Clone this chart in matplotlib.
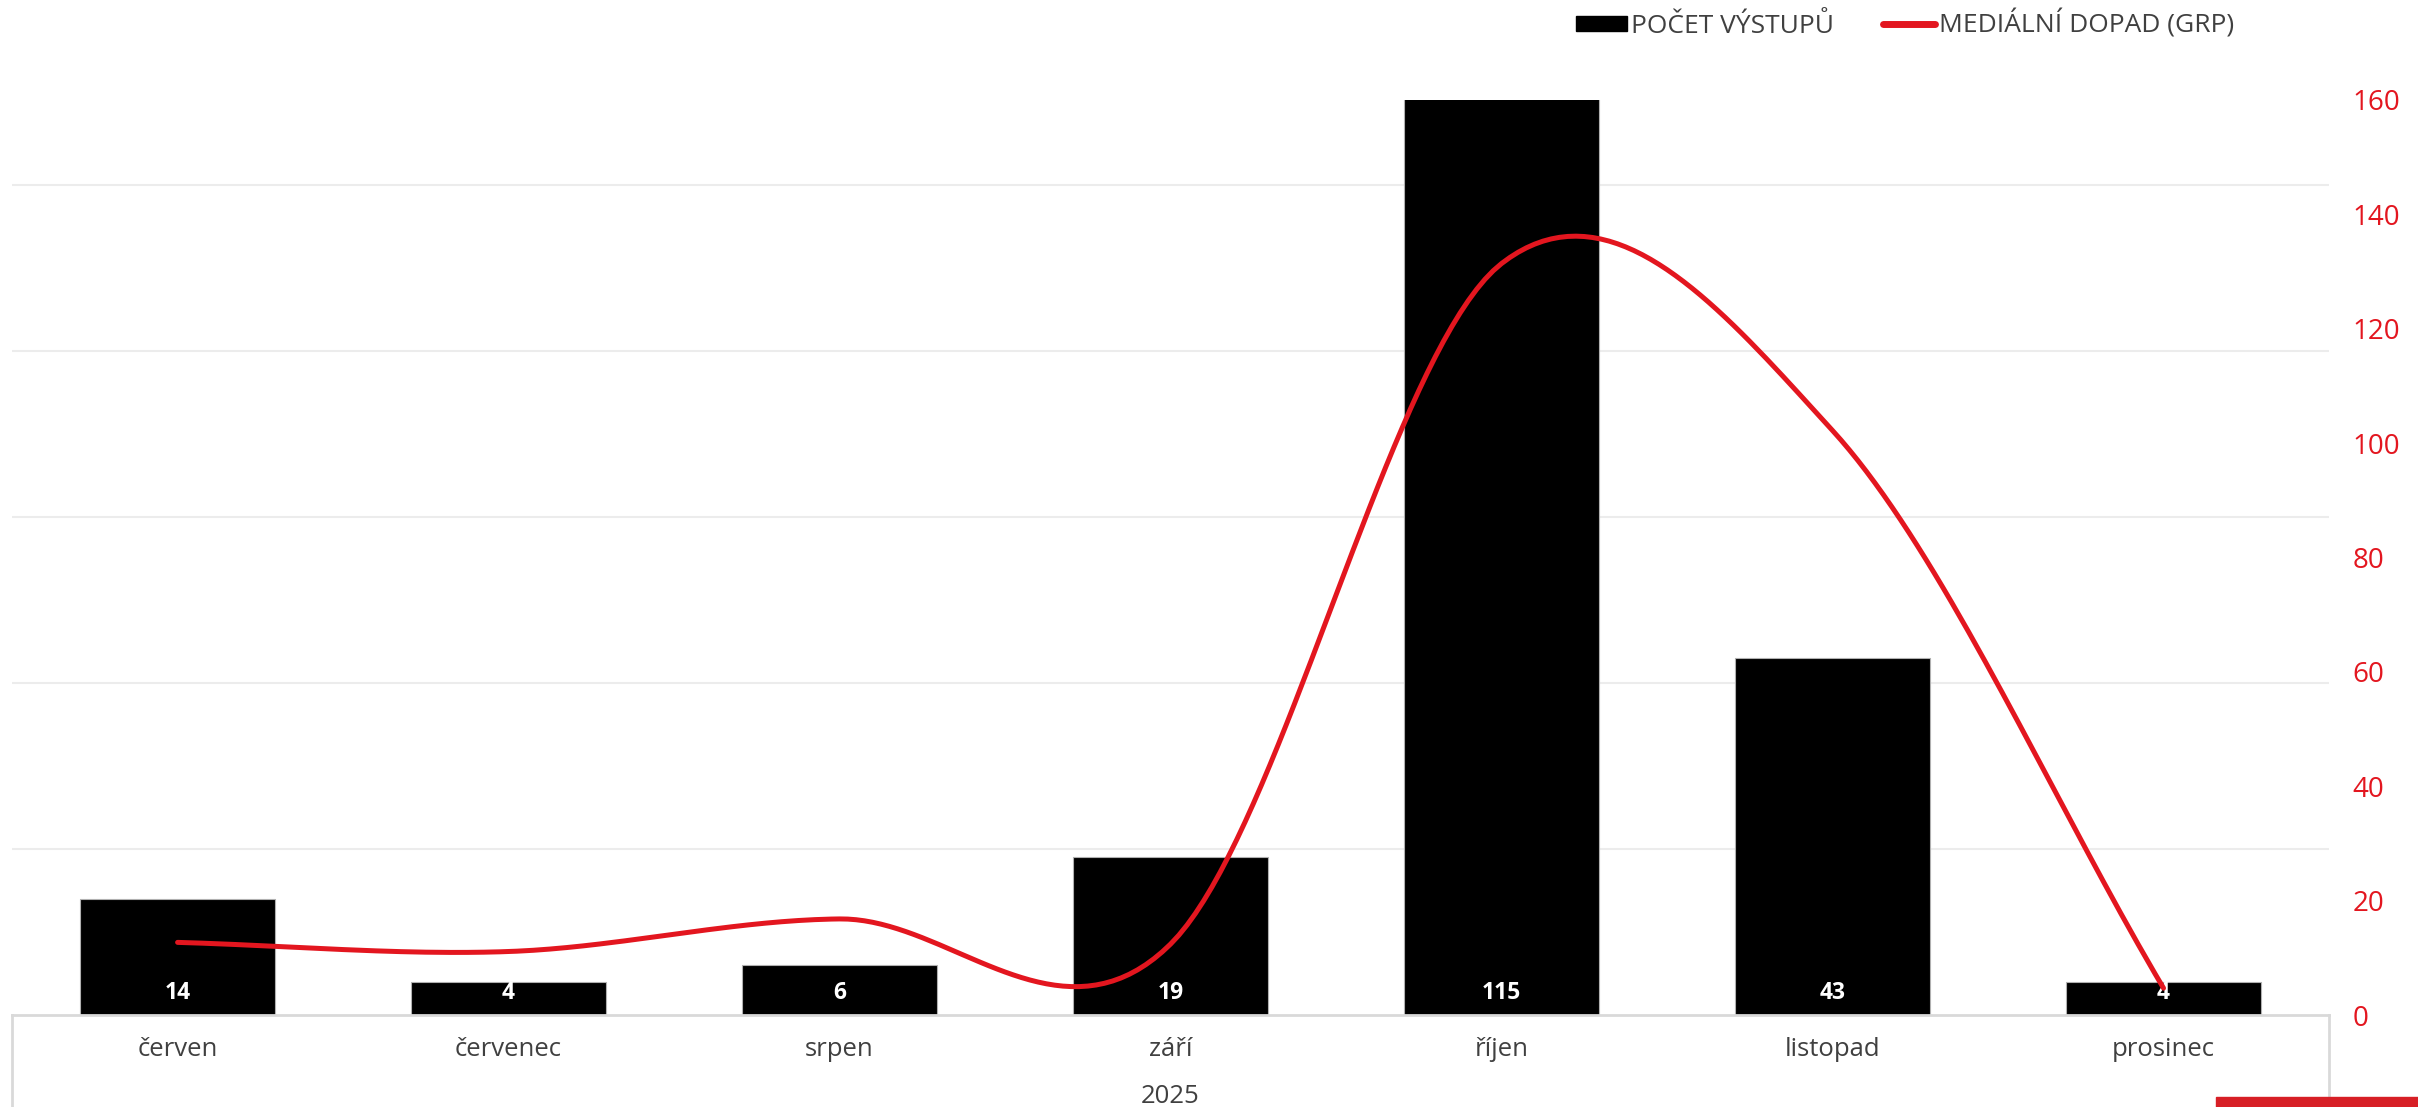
import numpy as np
import matplotlib
matplotlib.use("Agg")
import matplotlib.pyplot as plt
from matplotlib.patches import Rectangle
from matplotlib.lines import Line2D

plt.rcParams['font.family'] = ['Open Sans', 'DejaVu Sans']

mesice = ["červen", "červenec", "srpen", "září", "říjen", "listopad", "prosinec"]
rok = "2025"
vystupy = [14, 4, 6, 19, 115, 43, 4]
grp = [12.7, 11.1, 16.8, 12.4, 131.4, 102.2, 4.7]

cerna = "#000000"
cervena = "#E3161F"
seda_text = "#404040"


def smooth(xs, ys, n=40):
    # catmull-rom, podobne jako vyhlazena cara v Excelu
    xs = np.asarray(xs, float)
    ys = np.asarray(ys, float)
    px = np.concatenate([[2*xs[0]-xs[1]], xs, [2*xs[-1]-xs[-2]]])
    py = np.concatenate([[2*ys[0]-ys[1]], ys, [2*ys[-1]-ys[-2]]])
    ox, oy = [], []
    for i in range(1, len(px)-2):
        t = np.linspace(0, 1, n, endpoint=(i == len(px)-3))
        for p, o in ((px, ox), (py, oy)):
            p0, p1, p2, p3 = p[i-1], p[i], p[i+1], p[i+2]
            o.extend(0.5*((2*p1) + (-p0+p2)*t + (2*p0-5*p1+4*p2-p3)*t**2
                          + (-p0+3*p1-3*p2+p3)*t**3))
    return np.array(ox), np.array(oy)


fig = plt.figure(figsize=(24.18, 11.07), dpi=100)
ax = fig.add_axes([0.005, 0.0831, 0.9582, 0.8266])
x = np.arange(len(mesice))

bars = ax.bar(x, vystupy, width=0.59, color=cerna, edgecolor="#b0b0b0",
              linewidth=0.8, zorder=2)
ax.set_ylim(0, 110.2)
ax.set_xlim(-0.5, len(mesice)-0.5)
ax.set_yticks([20, 40, 60, 80, 100])
ax.yaxis.grid(True, color="#ececec", linewidth=1.5, zorder=0)
ax.set_axisbelow(True)
ax.set_xticks(x)
ax.set_xticklabels(mesice, fontsize=18.5, color=seda_text)
ax.tick_params(axis="x", length=0, pad=16)
for s in ["top", "left", "right"]:
    ax.spines[s].set_visible(False)
ax.spines["bottom"].set_color("#d9d9d9")
ax.spines["bottom"].set_linewidth(2)

for xi, v in zip(x, vystupy):
    ax.text(xi, 2.6, str(v), ha="center", va="center", color="white",
            fontsize=16.5, fontweight="bold", zorder=4)

ax.text(0.5, -0.089, rok, transform=ax.transAxes, ha="center", va="center",
        fontsize=18.5, color=seda_text)

# ramecek kategorii pod osou
for xa in (0, 1):
    ax.add_line(Line2D([xa, xa], [0, -0.2], transform=ax.transAxes,
                       color="#d9d9d9", linewidth=2, clip_on=False))

ax2 = ax.twinx()
sx, sy = smooth(x, grp)
ax2.plot(sx, sy, color=cervena, linewidth=3.6, solid_capstyle="round",
         zorder=3)
ax2.set_ylim(0, 160)
ax2.set_yticks(range(0, 161, 20))
ax2.tick_params(axis="y", length=0, pad=17, labelsize=20, labelcolor=cervena)
for s in ["top", "left", "right", "bottom"]:
    ax2.spines[s].set_visible(False)
ax.tick_params(axis="y", left=False, right=False, labelleft=False)

h1 = Rectangle((0, 0), 1, 1, color=cerna)
h2 = Line2D([0], [0], color=cervena, linewidth=5, solid_capstyle="round")
fig.legend([h1, h2], ["POČET VÝSTUPŮ", "MEDIÁLNÍ DOPAD (GRP)"],
           loc="upper right", bbox_to_anchor=(0.9295, 1.003), ncol=2,
           frameon=False, fontsize=19, labelcolor=seda_text, borderpad=0,
           handlelength=1.95, handleheight=0.55, handletextpad=0.17,
           columnspacing=1.85)

fig.patches.append(Rectangle((2216/2418, 0), 1, 10/1107,
                             transform=fig.transFigure, color="#D71F26"))

fig.savefig("out.png", dpi=100)
